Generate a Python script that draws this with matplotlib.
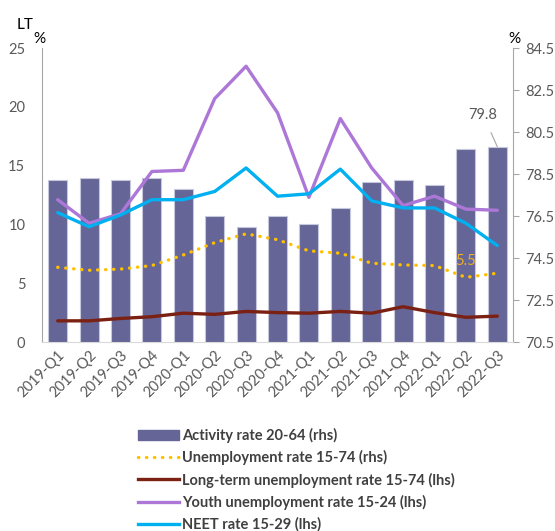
import matplotlib
matplotlib.use("Agg")
import matplotlib.pyplot as plt
from matplotlib.patches import Patch
from matplotlib.lines import Line2D
import numpy as np

plt.rcParams['font.family'] = ['Lato', 'DejaVu Sans']

quarters = ["2019-Q1", "2019-Q2", "2019-Q3", "2019-Q4",
            "2020-Q1", "2020-Q2", "2020-Q3", "2020-Q4",
            "2021-Q1", "2021-Q2", "2021-Q3", "2021-Q4",
            "2022-Q1", "2022-Q2", "2022-Q3"]

# rhs
activity = [78.2, 78.3, 78.2, 78.3, 77.8, 76.5, 76.0, 76.5,
            76.1, 76.9, 78.1, 78.2, 78.0, 79.7, 79.8]
# plotted on the left scale in the original
unemployment = [6.35, 6.1, 6.2, 6.5, 7.4, 8.45, 9.2, 8.7,
                7.75, 7.55, 6.7, 6.55, 6.5, 5.5, 5.85]
# lhs
long_term = [1.8, 1.8, 2.0, 2.15, 2.45, 2.35, 2.6, 2.5,
             2.45, 2.6, 2.45, 3.0, 2.5, 2.1, 2.2]
youth = [12.1, 10.1, 10.9, 14.5, 14.6, 20.7, 23.45, 19.5,
         12.3, 19.0, 14.8, 11.6, 12.4, 11.3, 11.2]
neet = [11.0, 9.8, 10.8, 12.1, 12.1, 12.8, 14.8, 12.4,
        12.6, 14.7, 12.0, 11.4, 11.4, 10.1, 8.2]

bar_col = "#656597"
unemp_col = "#FFC000"
lt_col = "#7B2113"
youth_col = "#AD77D8"
neet_col = "#00B0F0"
txt_col = "#595959"

fig = plt.figure(figsize=(5.55, 5.31), dpi=100)
ax = fig.add_axes([42/555, 1-342/531, (513-42)/555, (342-48)/531])
ax2 = ax.twinx()
ax.set_zorder(ax2.get_zorder() + 1)
ax.patch.set_visible(False)

x = np.arange(len(quarters))

ax2.bar(x, activity, width=0.6, color=bar_col, edgecolor="#C8C8DC", linewidth=0.8)
ax2.set_ylim(70.5, 84.5)
ax2.set_yticks(np.arange(70.5, 84.6, 2))
ax2.set_yticklabels(["%.1f" % v for v in np.arange(70.5, 84.6, 2)])

ax.plot(x, unemployment, color=unemp_col, lw=2.4, linestyle=(0, (0.1, 2.3)),
        dash_capstyle="round")
ax.plot(x, long_term, color=lt_col, lw=2.4, solid_capstyle="round")
ax.plot(x, youth, color=youth_col, lw=2.4, solid_capstyle="round")
ax.plot(x, neet, color=neet_col, lw=2.4, solid_capstyle="round")

ax.set_ylim(0, 25)
ax.set_yticks(range(0, 26, 5))
ax.set_xlim(-0.5, len(quarters) - 0.5)
ax.set_xticks(x)
ax.set_xticklabels(quarters, rotation=45, ha="right", rotation_mode="anchor")

for a in (ax, ax2):
    for s in a.spines.values():
        s.set_visible(False)
ax.spines["left"].set_visible(True)
ax.spines["left"].set_color("#A6A6A6")
ax.spines["bottom"].set_visible(True)
ax.spines["bottom"].set_color("#D9D9D9")
ax2.spines["right"].set_visible(True)
ax2.spines["right"].set_color("#A6A6A6")

ax.tick_params(axis="y", length=0, labelsize=10.5, labelcolor=txt_col, pad=12)
ax.tick_params(axis="x", length=0, labelsize=10.5, labelcolor=txt_col, pad=4)
ax2.tick_params(axis="y", length=4, color="#A6A6A6", labelsize=10.5,
                labelcolor=txt_col, pad=5)

# data labels
ax2.annotate("79.8", xy=(x[-1], activity[-1]), xytext=(x[-1] - 0.45, 81.3),
             ha="center", va="center", fontsize=10.5, color=txt_col,
             arrowprops=dict(arrowstyle="-", color="#A6A6A6", lw=0.8,
                             shrinkA=6, shrinkB=0))
ax.text(x[-2], unemployment[-2] + 1.4, "5.5", ha="center", va="center",
        fontsize=10.5, color="#F0B020")

fig.text(17/555, 1-29/531, "LT", fontsize=11, color="black")
fig.text(33/555, 1-43/531, "%", fontsize=11, color="black")
fig.text(508/555, 1-43/531, "%", fontsize=11, color="black")

handles = [
    Patch(facecolor=bar_col, edgecolor=bar_col),
    Line2D([], [], color=unemp_col, lw=2.4, linestyle=(0, (0.1, 2.3)),
           dash_capstyle="round"),
    Line2D([], [], color=lt_col, lw=2.4),
    Line2D([], [], color=youth_col, lw=2.4),
    Line2D([], [], color=neet_col, lw=2.4),
]
labels = ["Activity rate 20-64 (rhs)",
          "Unemployment rate 15-74 (rhs)",
          "Long-term unemployment rate 15-74 (lhs)",
          "Youth unemployment rate 15-24 (lhs)",
          "NEET rate 15-29 (lhs)"]
leg = fig.legend(handles, labels, loc="upper left",
                 bbox_to_anchor=(132/555, 1-422/531), frameon=False,
                 handlelength=2.8, handletextpad=0.25, labelspacing=0.5,
                 prop=dict(size=10.5, weight="bold"), borderaxespad=0)
for t in leg.get_texts():
    t.set_color("#404040")

fig.savefig("out.png", dpi=100)
